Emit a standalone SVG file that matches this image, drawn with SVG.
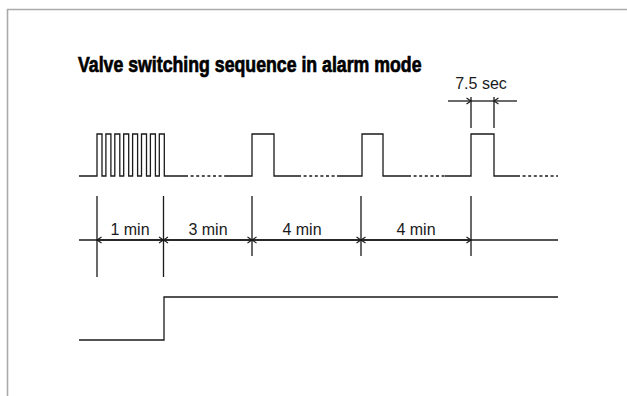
<svg xmlns="http://www.w3.org/2000/svg" width="627" height="396" viewBox="0 0 627 396">
<style>
.ln{fill:none;stroke:#1a1a1a;stroke-width:1.3}
.dot{fill:none;stroke:#1a1a1a;stroke-width:1.3;stroke-dasharray:3 2.6}
.lbl{font-family:"Liberation Sans",Arial,sans-serif;font-size:16px;fill:#1a1a1a;text-anchor:middle}
.title{font-family:"Liberation Sans",Arial,sans-serif;font-weight:bold;font-size:22px;fill:#000;stroke:#000;stroke-width:0.7}
</style>
<defs>
<marker id="arr" viewBox="-6 -4 7 8" markerWidth="7" markerHeight="8" refX="0" refY="0" orient="auto-start-reverse" markerUnits="userSpaceOnUse">
<path d="M-4.5,-3 L0,0 L-4.5,3" fill="none" stroke="#1a1a1a" stroke-width="1.1"/>
</marker>
</defs>
<rect width="627" height="396" fill="#fff"/>
<path d="M7.5,396 V9.5 H627" fill="none" stroke="#aaa" stroke-width="1.6"/>
<text class="title" transform="translate(78,72) scale(0.75,1)" x="0" y="0" textLength="458" lengthAdjust="spacingAndGlyphs">Valve switching sequence in alarm mode</text>
<g id="pulse-train">
<path class="ln" d="M79,176 H97 V134 H102 V176 H105.9 V134 H110.9 V176 H114.8 V134 H119.8 V176 H123.7 V134 H128.7 V176 H132.6 V134 H137.6 V176 H141.5 V134 H146.5 V176 H150.4 V134 H155.4 V176 H159.3 V134 H164.3 V176 H185"/>
<path class="dot" d="M185,176 H225"/>
<path class="ln" d="M225,176 H252 V134 H274 V176 H298"/>
<path class="dot" d="M298,176 H337"/>
<path class="ln" d="M337,176 H362 V134 H383 V176 H408"/>
<path class="dot" d="M408,176 H445"/>
<path class="ln" d="M445,176 H471 V134 H494 V176 H517"/>
<path class="dot" d="M517,176 H558"/>
</g>
<g id="pulse-dimension">
<path class="ln" d="M471,97 V128 M494,97 V128"/>
<path class="ln" d="M448,101 H471" marker-end="url(#arr)"/>
<path class="ln" d="M517,101 H494" marker-end="url(#arr)"/>
<path class="ln" d="M471,101 H494"/>
<text class="lbl" x="481" y="89">7.5 sec</text>
</g>
<g id="time-axis">
<path class="ln" d="M79,240 H558"/>
<path class="ln" d="M97,196 V277 M163.5,196 V277 M252,196 V256 M361,196 V256 M471,196 V256"/>
<path class="ln" d="M97,240 H163.5" marker-start="url(#arr)" marker-end="url(#arr)"/>
<path class="ln" d="M163.5,240 H252" marker-start="url(#arr)" marker-end="url(#arr)"/>
<path class="ln" d="M252,240 H361" marker-start="url(#arr)" marker-end="url(#arr)"/>
<path class="ln" d="M361,240 H471" marker-start="url(#arr)" marker-end="url(#arr)"/>
<text class="lbl" x="130" y="235">1 min</text>
<text class="lbl" x="208" y="235">3 min</text>
<text class="lbl" x="302" y="235">4 min</text>
<text class="lbl" x="416" y="235">4 min</text>
</g>
<g id="alarm-state">
<path class="ln" d="M79,340 H164 V297 H558"/>
</g>
</svg>
